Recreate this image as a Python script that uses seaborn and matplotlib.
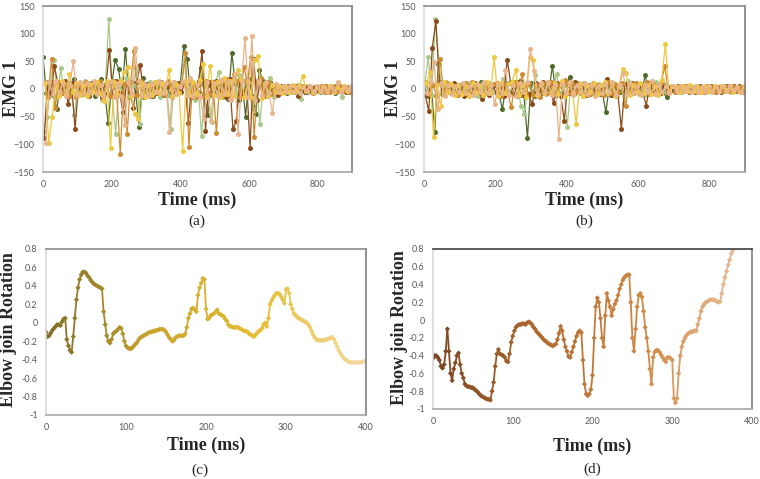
import numpy as np
import pandas as pd
import matplotlib
matplotlib.use("Agg")
import matplotlib.pyplot as plt
from matplotlib.collections import LineCollection
from matplotlib.colors import LinearSegmentedColormap, Normalize
import seaborn as sns

# -------------------------
# Data
# -------------------------

# EMG samples every 10 ms, each channel recorded with a small lag
emg_time = np.arange(0, 900, 10)
ch_lag_ms = [0, 1.7, 3.3, 5.0, 6.7, 8.3]
ch_names = ["ch1", "ch2", "ch3", "ch4", "ch5", "ch6"]
ch_colors = ["#4e6b2a", "#a9c98a", "#8b4a1b", "#d08a30", "#f0c840", "#e8b48a"]

# panel (a)
a_ch1 = [58, -8, 12, -10, -37, 6, -4, 9, -12, 18,
         4, -6, 8, -3, 10, -12, 5, 18, -9, -62,
         7, 52, 37, -10, 73, -15, 12, -8, -68, 20,
         -6, 9, -12, 5, 13, -8, 4, -11, 7, -5,
         10, 78, 54, -14, 9, -6, 38, -12, -47, 6,
         -9, 12, -15, 8, -18, 65, 10, -20, 14, -50,
         18, -12, -45, 35, 14, -10, 12, -8, 6, -4,
         5, -7, 3, -5, 6, -3, 4, -6, 2, -4,
         3, -5, 6, -2, 4, -7, 5, -3, 2, -4]
a_ch2 = [-77, -50, 10, 52, -15, 38, -8, 12, -6, -47,
         8, -5, 14, -10, 6, -4, 11, -20, 9, 127,
         -12, -82, 15, -9, 20, -14, 8, 38, -63, 10,
         -8, 12, -5, 9, -14, 6, -10, -72, 13, -6,
         11, 48, -9, 14, -20, 8, -85, 15, -12, -60,
         10, 30, -14, 9, -16, 12, -8, 25, -12, 18,
         -10, -37, 14, -64, 8, -12, 20, -15, 6, -5,
         4, -6, 3, -5, 7, -18, 5, -4, 3, -6,
         2, -5, 4, -3, 6, -4, 3, -14, 2, -5]
a_ch3 = [-88, 12, -8, 42, 9, -6, 14, -28, 10, -72,
         6, -9, 5, -12, 8, -4, 10, -14, 6, 70,
         -10, 14, -8, -42, 10, -6, -35, 12, 44, -14,
         9, -12, 6, -8, 12, -10, 5, 9, -7, 11,
         -6, 12, -62, 10, -8, 14, 68, -75, 12, -10,
         14, -12, 9, -15, 18, -73, -57, 16, -12, 10,
         -106, 55, -20, 15, -12, 9, -8, 6, -10, 5,
         -4, 6, -3, 5, -12, 4, -6, 3, -5, 4,
         -3, 5, -6, 4, -2, 5, -4, 3, -6, 2]
a_ch4 = [10, -14, 55, -35, 12, -8, 9, -12, 6, -15,
         10, -6, 12, -9, 8, -5, 14, -8, 10, -12,
         14, -10, -117, 9, -81, 12, 68, -10, 15, -8,
         6, -9, 12, -5, 8, -10, 14, -15, 9, -6,
         12, 65, -105, 10, -14, 8, -12, 15, -9, 12,
         -80, 14, -10, 18, -12, 27, 15, -14, 40, 12,
         57, -87, 15, 20, -10, 12, -9, 8, -6, 4,
         -5, 3, -6, 4, -3, 6, -4, 5, -7, 3,
         4, -3, 5, -6, 3, -4, 6, -2, 4, -5]
a_ch5 = [10, -97, -50, 8, -12, 14, -9, 28, -6, 11,
         -10, 7, -12, 9, -6, 12, -8, -22, 14, -107,
         12, -9, 14, 30, 40, -12, -45, -55, 10, -14,
         8, -11, 13, -7, 10, -6, 35, -12, 9, -8,
         -112, 14, -10, 12, -9, 16, 45, -14, 42, -10,
         12, -15, 20, -9, 14, -12, 35, 18, -15, 12,
         -14, 53, 60, -16, 10, -12, 8, -6, 5, -8,
         4, -5, 7, -3, 6, 24, -4, 5, -6, 3,
         -4, 6, -3, 5, -5, 4, -2, 6, -4, 3]
a_ch6 = [-98, 12, -9, 14, -6, 10, -12, 8, 50, -10,
         12, -8, 10, -6, 14, -9, 8, -12, 6, 15,
         -14, 10, -12, -65, 12, -9, 75, 14, -10, 8,
         -12, 9, -6, 14, -8, 10, -78, 12, -9, 6,
         14, -10, 20, -12, 9, -15, -55, 12, -57, 10,
         -12, 16, -9, 14, -20, 27, -81, 12, 93, -14,
         96, -20, 14, -10, 12, -8, -43, 9, -6, 5,
         -4, 6, -5, 3, -7, 4, -3, 5, -4, 6,
         -3, 4, -5, 3, -4, 12, -6, 4, -2, 5]

# panel (b)
b_ch1 = [8, -12, 10, -78, 45, -9, 6, -5, 8, -6,
         5, -7, 9, -4, 6, -10, 12, -8, 5, -6,
         7, -9, -37, 10, -6, 8, -12, 14, -10, -88,
         10, -12, 6, -8, 9, -5, 42, -10, 8, -6,
         12, 22, -9, 6, -8, 10, -5, 7, -9, 5,
         -6, -42, 8, -10, 6, -5, 9, -7, 5, -8,
         6, -9, 25, -7, 10, -5, 8, -6, -15, 4,
         -4, 3, -5, 6, -3, 4, -6, 3, -4, 5,
         -3, 4, -5, 3, -2, 5, -4, 6, -3, 4]
b_ch2 = [6, 57, -10, 127, 45, -8, 12, -6, 9, -10,
         7, -5, 10, -8, 6, -12, 9, -7, 11, -6,
         8, -10, 18, -6, 12, -9, 7, -30, -45, 10,
         -8, 25, -12, 7, -9, 10, -6, 28, -10, 8,
         -68, 12, -9, 10, -6, 8, -11, 6, -5, 9,
         -7, 10, -8, 6, -12, 9, -27, 15, -6, 8,
         -9, 7, -10, 6, -8, 12, -5, 9, -6, 4,
         3, -5, 4, -3, 6, -4, 5, -2, 4, -5,
         -4, 3, -2, 5, -3, 4, -5, 2, -4, 3]
b_ch3 = [-10, -40, 75, 122, 12, -8, 9, -6, 10, -7,
         8, -12, 6, -9, 10, -5, -18, 8, -10, 6,
         -8, 9, -12, 53, 10, -7, 12, -10, 8, -9,
         -28, 10, -8, 12, -6, 9, -26, 10, -12, -57,
         10, -8, 12, -6, 9, -10, 7, -5, 8, -9,
         6, 18, -10, 8, -6, -72, 9, -8, 10, -5,
         8, -6, -30, 10, -8, 5, -7, 6, -5, 4,
         -3, 5, -4, 3, -5, 4, -2, 5, -3, 4,
         5, -3, 4, -5, 3, -2, 4, -3, 5, -4]
b_ch4 = [12, -9, 8, -12, 55, -6, 10, -8, 6, -10,
         -7, 10, -9, 12, -5, 8, -10, 6, -8, 9,
         10, -12, 9, -8, -33, 12, -10, 28, -9, 11,
         -10, 8, -14, 10, -7, 12, -9, 6, 10, 17,
         -8, 10, -6, 9, -12, 7, -9, 10, -5, 8,
         -10, 12, -7, 9, -5, 11, -31, 8, -6, 10,
         -8, 6, 12, -9, 7, -6, 10, 42, -5, 6,
         -5, 4, -3, 6, -4, 3, -5, 4, -6, 3,
         4, -5, 3, -4, 6, -3, 5, -2, 4, -6]
b_ch5 = [10, 30, -87, 8, -30, 12, -6, 9, -10, 7,
         -9, 6, -12, 10, -8, 5, -10, 12, -7, 57,
         -12, 10, -8, 9, 12, 35, -10, 8, -14, 58,
         52, -10, 9, -8, 12, -6, 10, -9, 15, -12,
         10, -8, -63, 9, -12, 8, -6, 10, -9, 7,
         12, -8, 10, -12, 6, 36, 29, -10, 8, -6,
         10, -7, 8, -9, 6, -10, 17, 82, -6, 5,
         4, -6, 5, -3, 7, -4, 3, -5, 6, -4,
         -3, 5, -4, 6, -2, 4, -5, 3, -6, 5]
b_ch6 = [-8, 12, 49, -37, 10, -12, 8, -9, 6, -5,
         10, -8, 6, -11, 9, -6, 12, -8, 7, -28,
         9, -7, 35, -10, 8, -12, 10, -6, 12, 72,
         33, -9, 10, -6, 12, -10, 8, -90, 9, -7,
         12, -10, 8, -6, 10, -9, 7, -12, 6, -8,
         9, -6, 12, -10, 8, 29, -9, 10, -7, 6,
         -10, 8, -6, 15, -9, 7, -5, 6, -8, 5,
         -4, 5, -3, 4, -6, 3, -5, 4, -3, 6,
         -5, 3, -4, 5, -3, 6, -2, 4, -5, 3]

# elbow rotation, one sample every 2 ms
rot_c = [-0.10, -0.15, -0.14, -0.11, -0.08, -0.06, -0.04, -0.02, -0.02, -0.03,
         0.01, 0.04, 0.05, -0.18, -0.25, -0.30, -0.32, -0.15, 0.05, 0.25,
         0.38, 0.47, 0.52, 0.55, 0.55, 0.54, 0.51, 0.49, 0.46, 0.44,
         0.42, 0.41, 0.40, 0.39, 0.38, 0.37, 0.12, -0.02, -0.14, -0.20,
         -0.22, -0.18, -0.12, -0.10, -0.09, -0.07, -0.05, -0.06, -0.12, -0.20,
         -0.25, -0.27, -0.28, -0.28, -0.27, -0.25, -0.23, -0.21, -0.18, -0.16,
         -0.15, -0.14, -0.13, -0.12, -0.11, -0.10, -0.10, -0.09, -0.09, -0.08,
         -0.08, -0.07, -0.07, -0.07, -0.08, -0.10, -0.13, -0.16, -0.18, -0.20,
         -0.19, -0.16, -0.15, -0.14, -0.14, -0.14, -0.14, -0.12, -0.05, 0.05,
         0.10, 0.15, 0.16, 0.14, 0.12, 0.30, 0.38, 0.43, 0.48, 0.47,
         0.15, 0.04, 0.05, 0.08, 0.09, 0.10, 0.12, 0.14, 0.10, 0.09,
         0.08, 0.07, 0.04, 0.02, -0.02, -0.04, -0.04, -0.05, -0.05, -0.05,
         -0.05, -0.06, -0.07, -0.08, -0.09, -0.09, -0.10, -0.12, -0.13, -0.14,
         -0.15, -0.13, -0.11, -0.09, -0.08, -0.06, -0.02, 0.00, -0.04, 0.05,
         0.20, 0.24, 0.27, 0.30, 0.32, 0.32, 0.31, 0.28, 0.25, 0.21,
         0.36, 0.37, 0.32, 0.20, 0.15, 0.10, 0.08, 0.06, 0.05, 0.04,
         0.03, 0.02, 0.01, 0.00, -0.02, -0.05, -0.09, -0.13, -0.16, -0.18,
         -0.19, -0.19, -0.19, -0.19, -0.19, -0.18, -0.18, -0.17, -0.16, -0.16,
         -0.18, -0.22, -0.26, -0.30, -0.33, -0.36, -0.38, -0.40, -0.41, -0.42,
         -0.43, -0.43, -0.43, -0.43, -0.43, -0.43, -0.43, -0.43, -0.42, -0.42]
rot_d = [-0.43, -0.40, -0.40, -0.42, -0.45, -0.52, -0.54, -0.50, -0.35, -0.10,
         -0.35, -0.60, -0.68, -0.55, -0.48, -0.40, -0.37, -0.50, -0.60, -0.65,
         -0.72, -0.74, -0.75, -0.75, -0.76, -0.76, -0.78, -0.79, -0.81, -0.83,
         -0.85, -0.86, -0.87, -0.88, -0.89, -0.89, -0.90, -0.80, -0.70, -0.52,
         -0.38, -0.33, -0.38, -0.39, -0.40, -0.42, -0.46, -0.47, -0.38, -0.25,
         -0.18, -0.12, -0.08, -0.06, -0.05, -0.05, -0.04, -0.04, -0.05, -0.03,
         -0.02, -0.03, -0.05, -0.08, -0.10, -0.13, -0.15, -0.17, -0.19, -0.21,
         -0.23, -0.24, -0.26, -0.27, -0.28, -0.29, -0.28, -0.27, -0.22, -0.15,
         -0.07, -0.12, -0.22, -0.30, -0.35, -0.41, -0.42, -0.36, -0.30, -0.24,
         -0.18, -0.14, -0.12, -0.14, -0.45, -0.72, -0.83, -0.85, -0.83, -0.78,
         -0.62, -0.20, 0.15, 0.25, 0.20, 0.02, -0.20, -0.30, 0.05, 0.30,
         0.22, 0.15, 0.05, 0.12, 0.18, 0.22, 0.28, 0.35, 0.40, 0.45,
         0.48, 0.50, 0.51, 0.51, 0.20, -0.20, -0.35, -0.10, 0.15, 0.28,
         0.30, 0.26, 0.10, -0.08, -0.20, -0.35, -0.55, -0.72, -0.42, -0.36,
         -0.34, -0.34, -0.36, -0.39, -0.42, -0.45, -0.47, -0.42, -0.42, -0.43,
         -0.45, -0.88, -0.93, -0.88, -0.60, -0.40, -0.30, -0.24, -0.20, -0.17,
         -0.15, -0.14, -0.13, -0.13, -0.12, -0.12, -0.05, 0.02, 0.10, 0.15,
         0.18, 0.20, 0.21, 0.22, 0.23, 0.23, 0.23, 0.22, 0.21, 0.20,
         0.21, 0.30, 0.40, 0.48, 0.55, 0.62, 0.68, 0.75, 0.79, 0.84]
rot_time_c = np.arange(len(rot_c)) * 2
rot_time_d = np.arange(len(rot_d)) * 2

cmap_c = LinearSegmentedColormap.from_list("c", ["#7f6c28", "#c9a42c", "#e6be32", "#f4dba4"])
cmap_d = LinearSegmentedColormap.from_list("d", ["#7a4520", "#b06a30", "#d08a45", "#ecc4a4"])

# -------------------------
# Style
# -------------------------

sns.set_style("white")
plt.rcParams["font.family"] = ["Lato", "DejaVu Sans"]
serif = ["Liberation Serif", "DejaVu Serif"]
tick_gray = "#595959"

W, H = 760, 479
fig = plt.figure(figsize=(W / 100, H / 100), dpi=100)


def rect(l, t, r, b):
    return [l / W, 1 - b / H, (r - l) / W, (b - t) / H]


ax_a = fig.add_axes(rect(43, 6, 352, 172))
ax_b = fig.add_axes(rect(424, 6, 745, 172))
ax_c = fig.add_axes(rect(46, 249, 366, 415))
ax_d = fig.add_axes(rect(433, 249, 752, 409))


def frame(ax):
    ax.spines["left"].set_color("#d9d9d9")
    ax.spines["bottom"].set_color("#a6a6a6")
    ax.spines["top"].set_color("#8c8c8c")
    ax.spines["right"].set_color("#7f7f7f")
    for s in ax.spines.values():
        s.set_linewidth(1.2)
    ax.tick_params(length=0, pad=6, labelsize=6.5, colors=tick_gray)
    ax.set_xlabel("")
    ax.set_ylabel("")


# -------------------------
# EMG panels
# -------------------------

def emg_panel(ax, channels):
    rows = []
    for name, lag, vals in zip(ch_names, ch_lag_ms, channels):
        rows.append(pd.DataFrame({"time": emg_time + lag, "emg": vals, "ch": name}))
    df = pd.concat(rows, ignore_index=True)
    sns.lineplot(data=df, x="time", y="emg", hue="ch", palette=ch_colors,
                 estimator=None, sort=False, marker="o", markersize=3.6,
                 markeredgewidth=0, linewidth=0.9, legend=False, ax=ax)
    ax.set_xlim(0, 900)
    ax.set_ylim(-150, 150)
    ax.set_xticks([0, 200, 400, 600, 800])
    ax.set_yticks([-150, -100, -50, 0, 50, 100, 150])
    frame(ax)


emg_panel(ax_a, [a_ch1, a_ch2, a_ch3, a_ch4, a_ch5, a_ch6])
emg_panel(ax_b, [b_ch1, b_ch2, b_ch3, b_ch4, b_ch5, b_ch6])

# -------------------------
# Elbow rotation panels
# -------------------------

def rot_panel(ax, t, v, cmap):
    norm = Normalize(0, 400)
    pts = np.column_stack([t, v])
    segs = np.stack([pts[:-1], pts[1:]], axis=1)
    mids = (t[:-1] + t[1:]) / 2
    ax.add_collection(LineCollection(segs, colors=cmap(norm(mids)), linewidths=1.3))
    sns.scatterplot(x=t, y=v, hue=t, palette=cmap, hue_norm=norm, marker="D",
                    s=7, linewidth=0, legend=False, ax=ax)
    ax.set_xlim(0, 400)
    ax.set_ylim(-1, 0.8)
    ax.set_xticks([0, 100, 200, 300, 400])
    yt = np.round(np.arange(-1, 0.81, 0.2), 1)
    ax.set_yticks(yt)
    ax.set_yticklabels(["0" if abs(y) < 1e-9 else f"{y:g}" for y in yt])
    frame(ax)


rot_panel(ax_c, rot_time_c, rot_c, cmap_c)
rot_panel(ax_d, rot_time_d, rot_d, cmap_d)
ax_d.spines["top"].set_color("#404040")

# -------------------------
# Labels and captions
# -------------------------

lab = dict(family=serif, fontweight="bold", fontsize=13, ha="center", va="center")
fig.text(12 / W, 1 - 89 / H, "EMG 1", rotation=90, **lab)
fig.text(394 / W, 1 - 89 / H, "EMG 1", rotation=90, **lab)
fig.text(9 / W, 1 - 330 / H, "Elbow join Rotation", rotation=90, **lab)
fig.text(399 / W, 1 - 328 / H, "Elbow join Rotation", rotation=90, **lab)

fig.text(197 / W, 1 - 200 / H, "Time (ms)", **lab)
fig.text(584 / W, 1 - 200 / H, "Time (ms)", **lab)
fig.text(206 / W, 1 - 445 / H, "Time (ms)", **lab)
fig.text(592 / W, 1 - 446 / H, "Time (ms)", **lab)

cap = dict(family=serif, fontsize=11, ha="center", va="center")
fig.text(197 / W, 1 - 221 / H, "(a)", **cap)
fig.text(584 / W, 1 - 221 / H, "(b)", **cap)
fig.text(200 / W, 1 - 470 / H, "(c)", **cap)
fig.text(592 / W, 1 - 469 / H, "(d)", **cap)

fig.savefig("out.png", dpi=100)
